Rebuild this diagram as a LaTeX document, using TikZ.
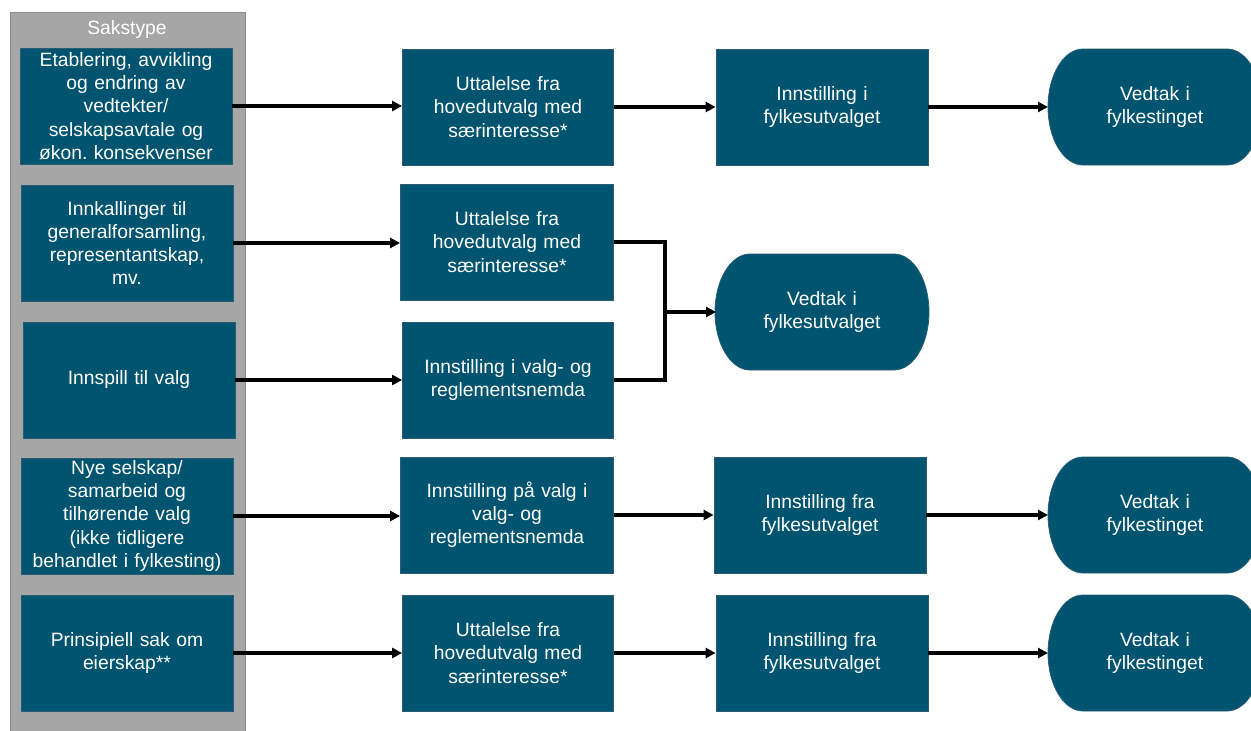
\documentclass[tikz,border=0pt]{standalone}
\usepackage{fontspec}
\setmainfont{Liberation Sans}
\usetikzlibrary{arrows.meta}
\definecolor{boxfill}{HTML}{00546F}
\definecolor{boxline}{HTML}{2A5D72}
\definecolor{greyfill}{HTML}{A6A6A6}
\definecolor{greyline}{HTML}{8C8C8C}
\tikzset{
  x=1pt, y=1pt,
  sakbox/.style={rectangle, fill=boxfill, draw=boxline, line width=0.8pt,
    minimum width=212pt, minimum height=116pt, inner sep=0pt,
    text=white, align=center, text width=210pt,
    font=\fontsize{19.3}{23.2}\selectfont},
  vtext/.style={rectangle, draw=none, minimum width=214pt, minimum height=116pt,
    inner sep=0pt, text=white, align=center, text width=180pt,
    font=\fontsize{19.3}{23.2}\selectfont},
  arr/.style={draw=black, line width=3.1pt, -{Triangle[length=10pt,width=10pt]}},
  joinline/.style={draw=black, line width=3.1pt}
}
\newcommand\vedtakshape[4]{%
  \fill[boxfill, draw=boxline, line width=0.8pt]
    ({#2-72},{#3+58}) -- ({#2+72},{#3+58})
    arc[start angle=90, end angle=-90, x radius=35, y radius=58]
    -- ({#2-72},{#3-58})
    arc[start angle=270, end angle=90, x radius=35, y radius=58] -- cycle;
  \node[vtext] (#1) at (#2,#3) {#4};
}
\begin{document}
\begin{tikzpicture}
\useasboundingbox (0,0) rectangle (1251,-731);
% grey column
\fill[greyfill, draw=greyline, line width=0.8pt] (10,-12) rectangle (245,-740);
\node[text=white, font=\fontsize{19.3}{23.2}\selectfont] (sak) at (127,-30) {Sakstype};
% left column
\node[sakbox] (l1) at (126,-106) {Etablering, avvikling\\og endring av\\vedtekter/\\selskapsavtale og\\økon.\ konsekvenser};
\node[sakbox] (l2) at (127,-243) {Innkallinger til\\generalforsamling,\\representantskap,\\mv.};
\node[sakbox] (l3) at (129,-380) {Innspill til valg};
\node[sakbox] (l4) at (127,-516) {Nye selskap/\\samarbeid og\\tilhørende valg\\(ikke tidligere\\behandlet i fylkesting)};
\node[sakbox] (l5) at (127,-653) {Prinsipiell sak om\\eierskap**};
% second column
\node[sakbox, minimum width=211pt] (m1) at (508,-107) {Uttalelse fra\\hovedutvalg med\\særinteresse*};
\node[sakbox, minimum width=213pt] (m2) at (507,-242) {Uttalelse fra\\hovedutvalg med\\særinteresse*};
\node[sakbox, minimum width=211pt] (m3) at (508,-380) {Innstilling i valg- og\\reglementsnemda};
\node[sakbox, minimum width=213pt] (m4) at (507,-515) {Innstilling på valg i\\valg- og\\reglementsnemda};
\node[sakbox, minimum width=211pt] (m5) at (508,-653) {Uttalelse fra\\hovedutvalg med\\særinteresse*};
% third column
\node[sakbox] (c1) at (822,-107) {Innstilling i\\fylkesutvalget};
\vedtakshape{c2}{822}{-312}{Vedtak i\\fylkesutvalget}
\node[sakbox] (c4) at (820,-515) {Innstilling fra\\fylkesutvalget};
\node[sakbox] (c5) at (822,-653) {Innstilling fra\\fylkesutvalget};
% fourth column
\vedtakshape{v1}{1155}{-107}{Vedtak i\\fylkestinget}
\vedtakshape{v4}{1155}{-515}{Vedtak i\\fylkestinget}
\vedtakshape{v5}{1155}{-653}{Vedtak i\\fylkestinget}
% connectors
\draw[arr] (l1.east) -- (l1.east -| m1.west);
\draw[arr] (m1.east) -- (m1.east -| c1.west);
\draw[arr] (c1.east) -- (c1.east -| 1048,0);
\draw[arr] (l2.east) -- (l2.east -| m2.west);
\draw[arr] (l3.east) -- (l3.east -| m3.west);
\coordinate (j) at (665,-312);
\draw[joinline] (m2.east) -| (j);
\draw[joinline] (m3.east) -| (j);
\draw[arr] (j) -- (716,-312);
\draw[arr] (l4.east) -- (l4.east -| m4.west);
\draw[arr] (m4.east) -- (m4.east -| c4.west);
\draw[arr] (c4.east) -- (c4.east -| 1048,0);
\draw[arr] (l5.east) -- (l5.east -| m5.west);
\draw[arr] (m5.east) -- (m5.east -| c5.west);
\draw[arr] (c5.east) -- (c5.east -| 1048,0);
\end{tikzpicture}
\end{document}
